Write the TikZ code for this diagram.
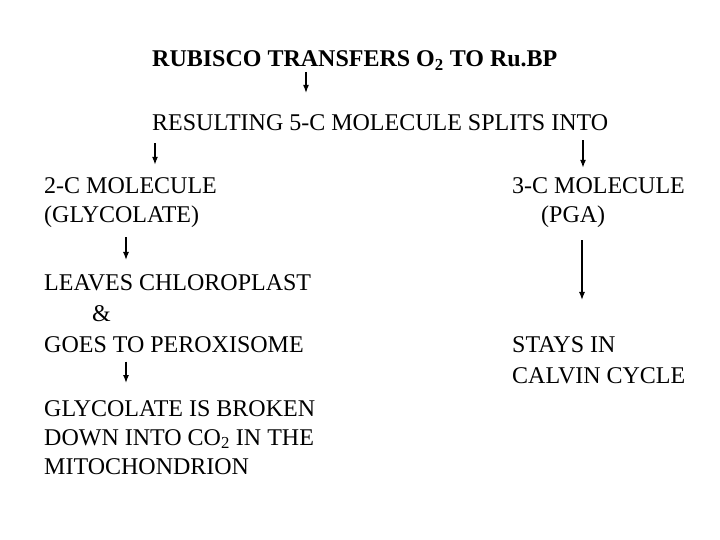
\documentclass[tikz,border=0pt]{standalone}
\usepackage{fontspec}
\setmainfont{Liberation Serif}
\usepackage{tikz}
\usetikzlibrary{arrows.meta}

\begin{document}
\begin{tikzpicture}[x=1bp,y=-1bp,
  txt/.style={inner sep=0pt,align=left,font=\fontsize{24bp}{29bp}\selectfont},
  arr/.style={-{Latex[length=8bp,width=6bp]},line width=1.3bp}]
\useasboundingbox (0,0) rectangle (720,540);
\node[txt,anchor=base west,font=\fontsize{24bp}{29bp}\selectfont\bfseries] (title) at (152,67) {RUBISCO TRANSFERS O\textsubscript{2} TO Ru.BP};
\node[txt,anchor=base west] (split) at (152,131) {RESULTING 5-C MOLECULE SPLITS INTO};

\node[txt,anchor=north west] (glyc) at (44,177.8) {2-C MOLECULE\\(GLYCOLATE)};
\node[txt,anchor=north west] (pga) at (512,177.8) {3-C MOLECULE\\\hspace*{29bp}(PGA)};
\node[txt,anchor=north west] (leaves) at (44,274) {LEAVES CHLOROPLAST\\[2bp]\hspace*{48bp}\&\\[2bp]GOES TO PEROXISOME};
\node[txt,anchor=north west] (stays) at (512,336) {STAYS IN\\[2bp]CALVIN CYCLE};
\node[txt,anchor=north west] (broken) at (44,400) {GLYCOLATE IS BROKEN\\DOWN INTO CO\textsubscript{2} IN THE\\MITOCHONDRION};

% arrows
\draw[arr,shorten <=1bp,shorten >=22bp] (title.south -| 306,0) -- (split.north -| 306,0);
\draw[arr,shorten <=12bp,shorten >=13bp] (split.south -| 155,0) -- (glyc.north -| 155,0);
\draw[arr,shorten <=9bp,shorten >=10bp] (split.south -| 583,0) -- (pga.north -| 583,0);
\draw[arr,shorten <=9bp,shorten >=14bp] (glyc.south -| 126,0) -- (leaves.north -| 126,0);
\draw[arr,shorten <=12bp,shorten >=36bp] (pga.south -| 582,0) -- (stays.north -| 582,0);
\draw[arr,shorten <=9bp,shorten >=17bp] (leaves.south -| 126,0) -- (broken.north -| 126,0);
\end{tikzpicture}
\end{document}
